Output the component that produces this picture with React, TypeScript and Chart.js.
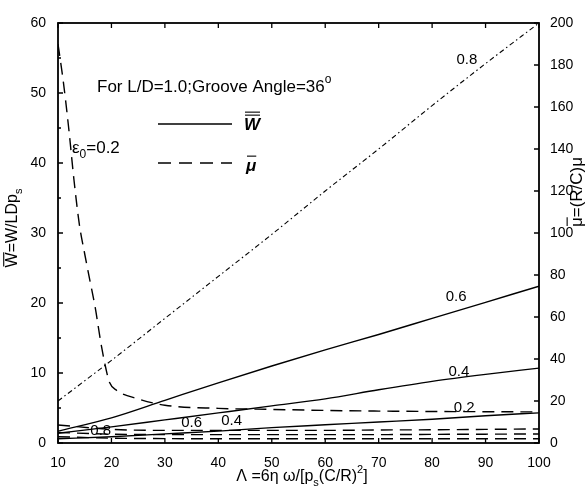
import { useEffect, useRef } from 'react';
import { Chart, registerables } from 'chart.js';
Chart.register(...registerables);

// ---- data ----
const lambdaGrid = [10, 20, 30, 40, 50, 60, 70, 80, 90, 100];
const wEps02 = [0.6, 0.9, 1.3, 1.7, 2.2, 2.6, 3.0, 3.4, 3.9, 4.3];
const wEps04 = [1.4, 2.3, 3.3, 4.3, 5.3, 6.3, 7.6, 8.8, 9.8, 10.7];
const wEps06 = [1.7, 3.6, 6.1, 8.6, 11.0, 13.3, 15.5, 17.8, 20.1, 22.4];
const wEps08 = [6.0, 11.8, 17.8, 23.8, 29.8, 36.0, 42.0, 48.2, 54.2, 60.0];

const muLambda02 = [10, 11, 12, 13, 14, 15, 16, 17, 18, 19, 19.6, 21, 25, 30, 40, 50, 60, 70, 80, 90, 100];
const muEps02 = [190, 172, 150, 125, 104, 90, 77, 64, 48, 35, 29, 25, 21, 18, 16.5, 16, 15.5, 15.2, 15, 14.9, 14.8];
const muEps04 = [8.6, 6.5, 6.0, 6.0, 6.0, 6.0, 6.2, 6.3, 6.5, 6.7];
const muEps06 = [5.0, 4.2, 4.0, 4.0, 4.0, 4.0, 4.0, 4.1, 4.2, 4.3];
const muEps08 = [3.0, 2.3, 2.1, 2.0, 2.0, 2.0, 2.0, 2.0, 2.0, 2.0];

const xTickValues = [10, 20, 30, 40, 50, 60, 70, 80, 90, 100];
const wTickValues = [0, 10, 20, 30, 40, 50, 60];
const muTickValues = [0, 20, 40, 60, 80, 100, 120, 140, 160, 180, 200];

// curve labels: [text, lambda, W-value]
const curveLabels: [string, number, number][] = [
  ['0.8', 86.5, 54.8],
  ['0.6', 84.5, 20.9],
  ['0.4', 85.0, 10.2],
  ['0.2', 86.0, 5.0],
  ['0.8', 18.0, 1.8],
  ['0.6', 35.0, 2.9],
  ['0.4', 42.5, 3.1],
];

const FONT = '"Liberation Sans", Arial, sans-serif';

const pts = (xs: number[], ys: number[]) => xs.map((x, i) => ({ x, y: ys[i] }));

type Seg = { t: string; over?: number; sub?: boolean; sup?: boolean; italic?: boolean; bold?: boolean };

function drawRich(ctx: CanvasRenderingContext2D, segs: Seg[], x: number, y: number, size: number, family: string, align: 'left' | 'center') {
  const fontOf = (s: Seg) => {
    const sz = s.sub || s.sup ? Math.round(size * 0.68) : size;
    return `${s.italic ? 'italic ' : ''}${s.bold ? 'bold ' : ''}${sz}px ${family}`;
  };
  let total = 0;
  for (const s of segs) {
    ctx.font = fontOf(s);
    total += ctx.measureText(s.t).width;
  }
  let cx = align === 'center' ? x - total / 2 : x;
  ctx.textBaseline = 'middle';
  ctx.textAlign = 'left';
  for (const s of segs) {
    ctx.font = fontOf(s);
    const w = ctx.measureText(s.t).width;
    let dy = 0;
    if (s.sub) dy = size * 0.38;
    if (s.sup) dy = -size * 0.42;
    ctx.fillText(s.t, cx, y + dy);
    if (s.over) {
      ctx.lineWidth = 1.1;
      for (let k = 0; k < s.over; k++) {
        const oy = y - size * 0.58 - k * 3;
        ctx.beginPath();
        ctx.moveTo(cx + 1, oy);
        ctx.lineTo(cx + w, oy);
        ctx.stroke();
      }
    }
    cx += w;
  }
}

const decorPlugin = {
  id: 'decor',
  afterDraw(chart: any) {
    const ctx: CanvasRenderingContext2D = chart.ctx;
    const { left, right, top, bottom } = chart.chartArea;
    const xs = chart.scales.x;
    const ys = chart.scales.y;
    const y1 = chart.scales.y1;
    ctx.save();
    ctx.strokeStyle = '#000';
    ctx.fillStyle = '#000';
    // frame
    ctx.lineWidth = 1.8;
    ctx.strokeRect(left, top, right - left, bottom - top);
    // inward ticks
    ctx.lineWidth = 1.3;
    ctx.beginPath();
    for (const v of xTickValues) {
      const px = xs.getPixelForValue(v);
      ctx.moveTo(px, bottom); ctx.lineTo(px, bottom - 5);
      ctx.moveTo(px, top); ctx.lineTo(px, top + 5);
    }
    for (const v of wTickValues) {
      const py = ys.getPixelForValue(v);
      ctx.moveTo(left, py); ctx.lineTo(left + 5, py);
      const pm = ys.getPixelForValue(v + 5);
      if (v < 60) { ctx.moveTo(left, pm); ctx.lineTo(left + 3, pm); }
    }
    for (const v of muTickValues) {
      const py = y1.getPixelForValue(v);
      ctx.moveTo(right, py); ctx.lineTo(right - 5, py);
    }
    ctx.stroke();

    // curve labels
    ctx.font = `15px ${FONT}`;
    ctx.textAlign = 'center';
    ctx.textBaseline = 'middle';
    for (const [t, lx, ly] of curveLabels) {
      ctx.fillText(t, xs.getPixelForValue(lx), ys.getPixelForValue(ly));
    }

    // epsilon label
    drawRich(ctx, [{ t: 'ε' }, { t: '0', sub: true }, { t: '=0.2' }], left + 14, top + 125, 17, FONT, 'left');

    // title
    drawRich(ctx, [{ t: 'For L/D=1.0;Groove Angle=36' }, { t: 'o', sup: true }], left + 39, top + 64, 17, FONT, 'left');

    // legend
    ctx.lineWidth = 1.6;
    ctx.setLineDash([]);
    ctx.beginPath();
    ctx.moveTo(left + 100, top + 101); ctx.lineTo(left + 174, top + 101);
    ctx.stroke();
    ctx.setLineDash([13, 8]);
    ctx.beginPath();
    ctx.moveTo(left + 100, top + 140); ctx.lineTo(left + 174, top + 140);
    ctx.stroke();
    ctx.setLineDash([]);
    drawRich(ctx, [{ t: 'W', over: 2, italic: true, bold: true }], left + 186, top + 102, 17, FONT, 'left');
    drawRich(ctx, [{ t: 'μ', over: 1, italic: true, bold: true }], left + 188, top + 143, 17, FONT, 'left');

    // x title
    drawRich(ctx, [{ t: 'Λ =6η ω/[p' }, { t: 's', sub: true }, { t: '(C/R)' }, { t: '2', sup: true }, { t: ']' }], 302, 477, 16, FONT, 'center');

    // left title
    ctx.save();
    ctx.translate(13, 228);
    ctx.rotate(-Math.PI / 2);
    drawRich(ctx, [{ t: 'W', over: 1 }, { t: '=W/LDp' }, { t: 's', sub: true }], 0, 0, 16, FONT, 'center');
    ctx.restore();

    // right title
    ctx.save();
    ctx.translate(577, 192);
    ctx.rotate(-Math.PI / 2);
    drawRich(ctx, [{ t: 'μ', over: 1 }, { t: '=(R/C)μ' }], 0, 0, 17, FONT, 'center');
    ctx.restore();

    ctx.restore();
  },
};

export default function App() {
  const ref = useRef<HTMLCanvasElement | null>(null);
  useEffect(() => {
    if (!ref.current) return;
    const solid = { borderColor: '#000', borderWidth: 1.4, pointRadius: 0, fill: false, cubicInterpolationMode: 'monotone' };
    const dashed = { ...solid, borderDash: [12, 7] };
    const chart = new Chart(ref.current, {
      type: 'line',
      data: {
        datasets: [
          { ...solid, label: 'W 0.2', data: pts(lambdaGrid, wEps02), yAxisID: 'y' },
          { ...solid, label: 'W 0.4', data: pts(lambdaGrid, wEps04), yAxisID: 'y' },
          { ...solid, label: 'W 0.6', data: pts(lambdaGrid, wEps06), yAxisID: 'y' },
          { ...solid, label: 'W 0.8', data: pts(lambdaGrid, wEps08), yAxisID: 'y', borderWidth: 1.1, borderDash: [5, 3, 1.5, 3] },
          { ...dashed, label: 'mu 0.2', data: pts(muLambda02, muEps02), yAxisID: 'y1' },
          { ...dashed, label: 'mu 0.4', data: pts(lambdaGrid, muEps04), yAxisID: 'y1' },
          { ...dashed, label: 'mu 0.6', data: pts(lambdaGrid, muEps06), yAxisID: 'y1' },
          { ...dashed, label: 'mu 0.8', data: pts(lambdaGrid, muEps08), yAxisID: 'y1' },
        ],
      },
      options: {
        animation: false,
        responsive: true,
        maintainAspectRatio: false,
        layout: { padding: { top: 23, left: 0, right: 0, bottom: 0 } },
        plugins: { legend: { display: false }, tooltip: { enabled: false } },
        scales: {
          x: {
            type: 'linear', min: 10, max: 100,
            grid: { display: false }, border: { display: false },
            ticks: { stepSize: 10, color: '#000', padding: 4, font: { family: FONT, size: 14 }, maxRotation: 0 },
            afterFit: (s: any) => { s.height = 48; },
          },
          y: {
            type: 'linear', position: 'left', min: 0, max: 60,
            grid: { display: false }, border: { display: false },
            ticks: { stepSize: 10, color: '#000', padding: 4, font: { family: FONT, size: 14 } },
            afterFit: (s: any) => { s.width = 58; },
          },
          y1: {
            type: 'linear', position: 'right', min: 0, max: 200,
            grid: { display: false }, border: { display: false },
            ticks: { stepSize: 20, color: '#000', padding: 3, font: { family: FONT, size: 14 } },
            afterFit: (s: any) => { s.width = 48; },
          },
        },
      },
      plugins: [decorPlugin],
    } as any);
    return () => chart.destroy();
  }, []);
  return (
    <div style={{ position: 'fixed', left: 0, top: 0, width: 587, height: 491, background: '#fff' }}>
      <canvas ref={ref} />
    </div>
  );
}
